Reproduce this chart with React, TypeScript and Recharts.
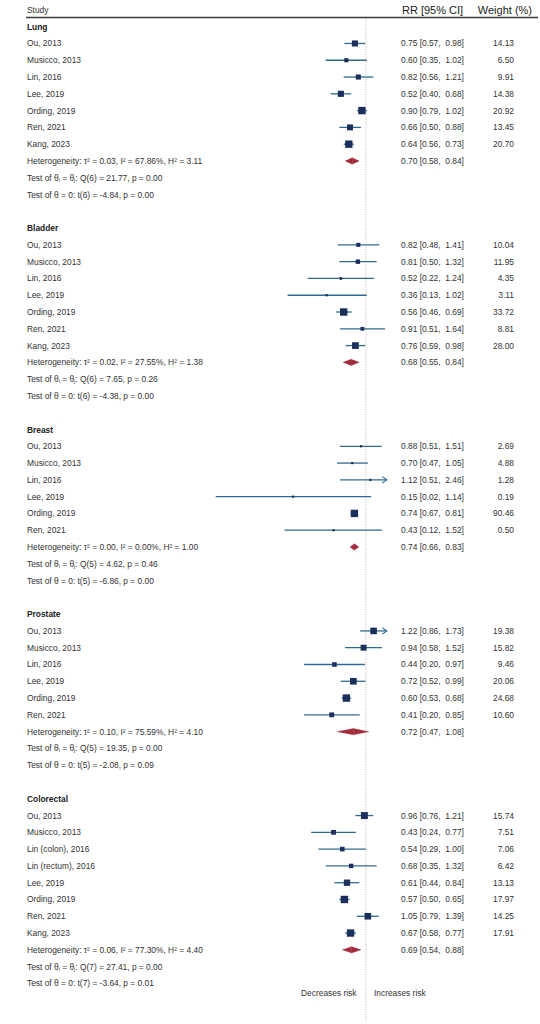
import React from 'react'
import { ComposedChart, XAxis, YAxis, Scatter, ReferenceLine, ReferenceDot } from 'recharts'

// subgroups, in plot order
const groups = ['Lung', 'Bladder', 'Breast', 'Prostate', 'Colorectal']

const lungStudies = ['Ou, 2013', 'Musicco, 2013', 'Lin, 2016', 'Lee, 2019', 'Ording, 2019', 'Ren, 2021', 'Kang, 2023']
const lungRR = [0.75, 0.6, 0.82, 0.52, 0.9, 0.66, 0.64]
const lungLo = [0.57, 0.35, 0.56, 0.4, 0.79, 0.5, 0.56]
const lungHi = [0.98, 1.02, 1.21, 0.68, 1.02, 0.88, 0.73]
const lungWeight = [14.13, 6.5, 9.91, 14.38, 20.92, 13.45, 20.7]

const bladderStudies = ['Ou, 2013', 'Musicco, 2013', 'Lin, 2016', 'Lee, 2019', 'Ording, 2019', 'Ren, 2021', 'Kang, 2023']
const bladderRR = [0.82, 0.81, 0.52, 0.36, 0.56, 0.91, 0.76]
const bladderLo = [0.48, 0.5, 0.22, 0.13, 0.46, 0.51, 0.59]
const bladderHi = [1.41, 1.32, 1.24, 1.02, 0.69, 1.64, 0.98]
const bladderWeight = [10.04, 11.95, 4.35, 3.11, 33.72, 8.81, 28.0]

const breastStudies = ['Ou, 2013', 'Musicco, 2013', 'Lin, 2016', 'Lee, 2019', 'Ording, 2019', 'Ren, 2021']
const breastRR = [0.88, 0.7, 1.12, 0.15, 0.74, 0.43]
const breastLo = [0.51, 0.47, 0.51, 0.02, 0.67, 0.12]
const breastHi = [1.51, 1.05, 2.46, 1.14, 0.81, 1.52]
const breastWeight = [2.69, 4.88, 1.28, 0.19, 90.46, 0.5]

const prostateStudies = ['Ou, 2013', 'Musicco, 2013', 'Lin, 2016', 'Lee, 2019', 'Ording, 2019', 'Ren, 2021']
const prostateRR = [1.22, 0.94, 0.44, 0.72, 0.6, 0.41]
const prostateLo = [0.86, 0.58, 0.2, 0.52, 0.53, 0.2]
const prostateHi = [1.73, 1.52, 0.97, 0.99, 0.68, 0.85]
const prostateWeight = [19.38, 15.82, 9.46, 20.06, 24.68, 10.6]

const colorectalStudies = ['Ou, 2013', 'Musicco, 2013', 'Lin (colon), 2016', 'Lin (rectum), 2016', 'Lee, 2019', 'Ording, 2019', 'Ren, 2021', 'Kang, 2023']
const colorectalRR = [0.96, 0.43, 0.54, 0.68, 0.61, 0.57, 1.05, 0.67]
const colorectalLo = [0.76, 0.24, 0.29, 0.35, 0.44, 0.5, 0.79, 0.58]
const colorectalHi = [1.21, 0.77, 1.0, 1.32, 0.84, 0.65, 1.39, 0.77]
const colorectalWeight = [15.74, 7.51, 7.06, 6.42, 13.13, 17.97, 14.25, 17.91]

// pooled results per subgroup
const pooledRR = [0.7, 0.68, 0.74, 0.72, 0.69]
const pooledLo = [0.58, 0.55, 0.66, 0.47, 0.54]
const pooledHi = [0.84, 0.84, 0.83, 1.08, 0.88]
const tau2 = [0.03, 0.02, 0.0, 0.1, 0.06]
const iSquared = [67.86, 27.55, 0.0, 75.59, 77.3]
const hSquared = [3.11, 1.38, 1.0, 4.1, 4.4]
const testDf = [6, 6, 5, 5, 7]
const qStat = [21.77, 7.65, 4.62, 19.35, 27.41]
const qP = [0.0, 0.26, 0.46, 0.0, 0.0]
const tStat = [-4.84, -4.38, -6.86, -2.08, -3.64]
const tP = [0.0, 0.0, 0.0, 0.09, 0.01]

const studies = [lungStudies, bladderStudies, breastStudies, prostateStudies, colorectalStudies]
const rrs = [lungRR, bladderRR, breastRR, prostateRR, colorectalRR]
const los = [lungLo, bladderLo, breastLo, prostateLo, colorectalLo]
const his = [lungHi, bladderHi, breastHi, prostateHi, colorectalHi]
const weights = [lungWeight, bladderWeight, breastWeight, prostateWeight, colorectalWeight]

const X_MIN = 0.02
const X_MAX = 1.72
const FONT = '"Liberation Sans", Arial, Helvetica, sans-serif'
const NAVY = '#1b2f5c'
const CI = '#2f6b8e'
const RED = '#a12a3b'
const TEXT = '#333'
const FS = 8.4

type Row = { kind: 'colhead' | 'head' | 'study' | 'het' | 'q' | 't'; g: number; i: number }

const rows = new Map<number, Row>()
const points: { rr: number; row: number; weight: number; wMax: number }[] = []
const cis: { row: number; lo: number; hi: number; clipped: boolean }[] = []
const diamonds: { row: number; rr: number; lo: number; hi: number }[] = []

rows.set(-1, { kind: 'colhead', g: 0, i: 0 })
let r = 0
groups.forEach((_, g) => {
  rows.set(r, { kind: 'head', g, i: 0 })
  const n = studies[g].length
  const wMax = Math.max(...weights[g])
  for (let i = 0; i < n; i++) {
    const row = r + 1 + i
    rows.set(row, { kind: 'study', g, i })
    points.push({ rr: rrs[g][i], row, weight: weights[g][i], wMax })
    cis.push({ row, lo: Math.max(los[g][i], X_MIN), hi: Math.min(his[g][i], X_MAX), clipped: his[g][i] > X_MAX })
  }
  rows.set(r + n + 1, { kind: 'het', g, i: 0 })
  diamonds.push({ row: r + n + 1, rr: pooledRR[g], lo: pooledLo[g], hi: pooledHi[g] })
  rows.set(r + n + 2, { kind: 'q', g, i: 0 })
  rows.set(r + n + 3, { kind: 't', g, i: 0 })
  r += n + 5
})
const NOTE_ROW = r - 2 + 0.55
const tickRows = Array.from(rows.keys())

const f2 = (v: number) => v.toFixed(2)

const txt = { fontFamily: FONT, fontSize: FS, fill: TEXT, dominantBaseline: 'central' as const }

function LeftTick(p: any) {
  const row = rows.get(p.payload.value)
  const y = p.y
  if (!row) return null
  if (row.kind === 'colhead') {
    return (
      <g>
        <text x={27} y={y} {...txt}>Study</text>
        <line x1={26} x2={538} y1={y + 7.6} y2={y + 7.6} stroke="#3a3a3a" strokeWidth={1.6} />
      </g>
    )
  }
  const g = row.g
  if (row.kind === 'head') return <text x={27} y={y} {...txt} fontWeight="bold" fill="#222">{groups[g]}</text>
  if (row.kind === 'study') return <text x={27} y={y} {...txt}>{studies[g][row.i]}</text>
  if (row.kind === 'het')
    return (
      <text x={27} y={y} {...txt}>
        {`Heterogeneity: τ² = ${f2(tau2[g])}, I² = ${f2(iSquared[g])}%, H² = ${f2(hSquared[g])}`}
      </text>
    )
  if (row.kind === 'q')
    return (
      <text x={27} y={y} {...txt}>
        Test of θ<tspan dy={2} fontSize={5.5}>i</tspan>
        <tspan dy={-2}> = θ</tspan>
        <tspan dy={2} fontSize={5.5}>j</tspan>
        <tspan dy={-2}>{`: Q(${testDf[g]}) = ${f2(qStat[g])}, p = ${f2(qP[g])}`}</tspan>
      </text>
    )
  return (
    <text x={27} y={y} {...txt}>
      {`Test of θ = 0: t(${testDf[g]}) = ${f2(tStat[g])}, p = ${f2(tP[g])}`}
    </text>
  )
}

function RightTick(p: any) {
  const row = rows.get(p.payload.value)
  const y = p.y
  if (!row) return null
  if (row.kind === 'colhead') {
    return (
      <g>
        <text x={402} y={y} {...txt} fontSize={11} fill="#222">RR [95% CI]</text>
        <text x={532} y={y} {...txt} fontSize={11} fill="#222" textAnchor="end">Weight (%)</text>
      </g>
    )
  }
  const g = row.g
  if (row.kind === 'study') {
    return (
      <g>
        <text x={401} y={y} {...txt}>{`${f2(rrs[g][row.i])} [${f2(los[g][row.i])},\u00A0\u00A0${f2(his[g][row.i])}]`}</text>
        <text x={514} y={y} {...txt} textAnchor="end">{f2(weights[g][row.i])}</text>
      </g>
    )
  }
  if (row.kind === 'het')
    return <text x={401} y={y} {...txt}>{`${f2(pooledRR[g])} [${f2(pooledLo[g])},\u00A0\u00A0${f2(pooledHi[g])}]`}</text>
  return null
}

function Square(p: any) {
  const { cx, cy, payload } = p
  const s = Math.max(2.2, 7.4 * Math.sqrt(payload.weight / payload.wMax))
  return <rect x={cx - s / 2} y={cy - s / 2} width={s} height={s} fill={NAVY} />
}

export default function App() {
  return (
    <div style={{ position: 'absolute', left: 0, top: 0 }}>
      <ComposedChart width={540} height={1024} margin={{ top: 1.5, right: 0, bottom: 2, left: 0 }}>
        <XAxis type="number" dataKey="rr" scale="log" domain={[X_MIN, X_MAX]} allowDataOverflow hide />
        <YAxis
          yAxisId="left"
          type="number"
          dataKey="row"
          domain={[-1.5, 59.3]}
          reversed
          allowDataOverflow
          ticks={tickRows}
          interval={0}
          tick={LeftTick}
          width={215.7}
          axisLine={false}
          tickLine={false}
        />
        <YAxis
          yAxisId="right"
          orientation="right"
          type="number"
          domain={[-1.5, 59.3]}
          reversed
          allowDataOverflow
          ticks={tickRows}
          interval={0}
          tick={RightTick}
          width={153.2}
          axisLine={false}
          tickLine={false}
        />
        <ReferenceLine
          yAxisId="left"
          ifOverflow="visible"
          segment={[{ x: 1, y: -0.45 }, { x: 1, y: 59.3 }]}
          stroke="#b4b4b4"
          strokeWidth={1}
          strokeDasharray="1 1.5"
        />
        {cis.map((c) => (
          <ReferenceLine
            key={`ci-${c.row}`}
            yAxisId="left"
            ifOverflow="visible"
            segment={[{ x: c.lo, y: c.row }, { x: c.hi, y: c.row }]}
            shape={(p: any) => (
              <g>
                <line x1={p.x1} y1={p.y1} x2={p.x2} y2={p.y2} stroke={CI} strokeWidth={1.3} />
                {c.clipped && (
                  <path d={`M${p.x2 - 4.5},${p.y2 - 3.2} L${p.x2},${p.y2} L${p.x2 - 4.5},${p.y2 + 3.2}`} fill="none" stroke={CI} strokeWidth={1.1} />
                )}
              </g>
            )}
          />
        ))}
        {diamonds.map((d) => (
          <ReferenceLine
            key={`dl-${d.row}`}
            yAxisId="left"
            ifOverflow="visible"
            segment={[{ x: d.lo, y: d.row }, { x: d.rr, y: d.row }]}
            shape={(p: any) => (
              <polygon points={`${p.x1},${p.y1} ${p.x2},${p.y1 - 3.2} ${p.x2},${p.y1 + 3.2}`} fill={RED} stroke={RED} strokeWidth={0.3} />
            )}
          />
        ))}
        {diamonds.map((d) => (
          <ReferenceLine
            key={`dr-${d.row}`}
            yAxisId="left"
            ifOverflow="visible"
            segment={[{ x: d.rr, y: d.row }, { x: d.hi, y: d.row }]}
            shape={(p: any) => (
              <polygon points={`${p.x1},${p.y1 - 3.2} ${p.x2},${p.y1} ${p.x1},${p.y1 + 3.2}`} fill={RED} stroke={RED} strokeWidth={0.3} />
            )}
          />
        ))}
        <ReferenceDot
          yAxisId="left"
          x={1}
          y={NOTE_ROW}
          shape={(p: any) => (
            <g>
              <text x={p.cx - 9.5} y={p.cy} {...txt} textAnchor="end">Decreases risk</text>
              <text x={p.cx + 8} y={p.cy} {...txt}>Increases risk</text>
            </g>
          )}
        />
        <Scatter yAxisId="left" data={points} shape={Square} isAnimationActive={false} />
      </ComposedChart>
    </div>
  )
}
